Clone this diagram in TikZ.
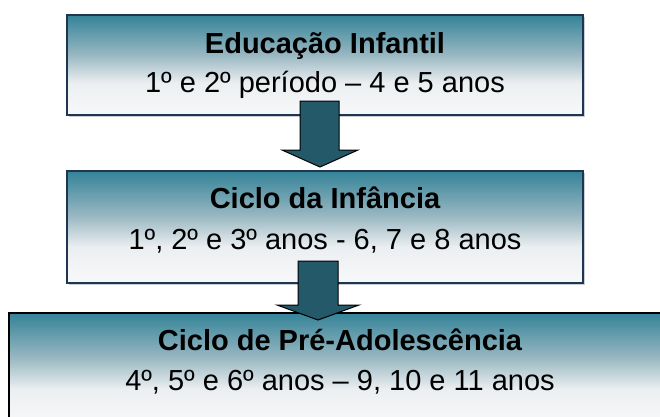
\documentclass[tikz,border=0pt]{standalone}
\usepackage{fontspec}
\setmainfont{Liberation Sans}
\usetikzlibrary{shadows}
\definecolor{boxborder}{RGB}{31,54,82}
\definecolor{arrowfill}{RGB}{35,89,104}
\definecolor{shadowgray}{RGB}{200,206,212}
% TikZ maps the 25bp--75bp band of a shading onto the path (0bp = bottom)
\pgfdeclareverticalshading{boxgrad}{100bp}{rgb(0bp)=(0.969,0.973,0.980); rgb(25bp)=(0.969,0.973,0.980); rgb(41bp)=(0.925,0.937,0.945); rgb(55bp)=(0.60,0.72,0.76); rgb(75bp)=(0.204,0.514,0.596); rgb(100bp)=(0.204,0.514,0.596)}
\tikzset{
  stagebox/.style={shading=boxgrad, draw=boxborder, line width=1.5pt, inner sep=0pt,
    drop shadow={shadow xshift=2pt, shadow yshift=-2pt, fill=shadowgray, opacity=1}},
  lastbox/.style={shading=boxgrad, draw=black, line width=2pt, inner sep=0pt},
  titletext/.style={anchor=base, inner sep=0pt, font=\fontsize{29}{34}\selectfont\bfseries},
  subtext/.style={anchor=base, inner sep=0pt, font=\fontsize{29}{34}\selectfont},
  blockarrow/.style={fill=arrowfill, draw=black, line width=1pt, line join=miter}
}
\begin{document}
\begin{tikzpicture}[x=1pt,y=-1pt]
\useasboundingbox (0,0) rectangle (660,416);
\clip (0,0) rectangle (660,416);
% boxes
\node[stagebox, minimum width=516pt, minimum height=100pt] (b1) at (325,65) {};
\node[stagebox, minimum width=516pt, minimum height=112pt] (b2) at (325,227) {};
\node[lastbox, minimum width=662pt, minimum height=112pt] (b3) at (340,369) {};
% texts
\node[titletext] (t1) at (325,53) {Educação Infantil};
\node[subtext] (s1) at (325,92) {1º e 2º período – 4 e 5 anos};
\node[titletext] (t2) at (325,208) {Ciclo da Infância};
\node[subtext] (s2) at (325,249) {1º, 2º e 3º anos - 6, 7 e 8 anos};
\node[titletext] (t3) at (340,350) {Ciclo de Pré-Adolescência};
\node[subtext] (s3) at (340,390) {4º, 5º e 6º anos – 9, 10 e 11 anos};
% block arrows
\coordinate (a1) at (320,101);
\coordinate (a2) at (318,261);
\draw[blockarrow] (a1) ++(-20,0) -- ++(39,0) -- ++(0,49) -- ++(19,0) -- ++(-38,17) -- ++(-38,-17) -- ++(18,0) -- cycle;
\draw[blockarrow] (a2) ++(-20,0) -- ++(40,0) -- ++(0,44) -- ++(21,0) -- ++(-41,15) -- ++(-41,-15) -- ++(21,0) -- cycle;
\end{tikzpicture}
\end{document}
